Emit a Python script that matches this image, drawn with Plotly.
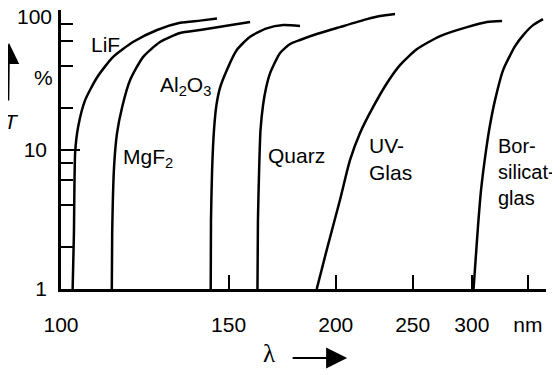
import numpy as np
import plotly.graph_objects as go

# Transmission curves T(%) versus wavelength (nm)
lif_wl = [102.7, 103.0, 103.3, 104.0, 105.7, 108.7, 112.8, 118.3, 125.4, 132.7, 139.5, 145.6]
lif_T = [1.0, 2.5, 9.6, 14.5, 22.6, 33.0, 46.0, 59.0, 72.0, 81.0, 84.0, 87.0]

mgf2_wl = [112.5, 112.6, 113.1, 113.9, 115.3, 117.5, 121.2, 126.3, 132.7, 139.5, 148.6, 158.6]
mgf2_T = [1.0, 2.5, 7.5, 13.1, 20.2, 31.5, 46.0, 59.0, 68.4, 71.9, 76.8, 82.0]

al2o3_wl = [143.3, 143.4, 143.8, 144.5, 145.4, 146.7, 149.3, 153.2, 158.6, 165.7, 173.2, 181.2]
al2o3_T = [1.0, 3.1, 7.1, 13.8, 20.8, 27.6, 37.1, 51.7, 64.4, 73.9, 78.0, 76.8]

quarz_wl = [161.7, 161.9, 162.4, 163.0, 164.1, 165.4, 167.2, 171.7, 176.4, 181.2, 189.7, 202.4, 218.6, 227.0, 237.2]
quarz_T = [1.0, 3.1, 7.1, 13.8, 20.8, 27.6, 35.3, 49.2, 57.1, 61.0, 67.3, 75.5, 86.1, 90.6, 93.6]

uv_wl = [189.7, 195.0, 202.4, 208.2, 214.2, 222.5, 231.7, 240.7, 253.3, 271.7, 295.5, 314.9, 330.6]
uv_T = [1.0, 1.9, 4.35, 8.4, 13.1, 20.2, 30.0, 40.3, 52.5, 65.1, 75.5, 82.0, 83.4]

bor_wl = [301.6, 303.1, 306.0, 308.9, 313.9, 317.9, 323.1, 331.7, 345.0, 355.5, 366.3, 378.8]
bor_T = [1.0, 1.44, 2.88, 5.13, 9.9, 15.0, 22.6, 37.1, 55.2, 67.3, 78.0, 86.1]

x_tick_wl = [100, 150, 200, 250, 300, 360]
x_tick_text = ["100", "150", "200", "250", "300", "nm"]
y_major = [1, 10, 100]
y_major_text = ["1", "10", ""]   # "100" is written just below its tick, as in the original
y_minor = [2, 4, 6, 8, 20, 40, 60, 80]

curve_labels = ["LiF", "MgF<sub>2</sub>", "Al<sub>2</sub>O<sub>3</sub>", "Quarz", "UV-<br>Glas", "Bor-<br>silicat-<br>glas"]

EXP = 0.3  # wavelength axis of the original drawing: roughly linear in -lambda^-0.3


def xs(wl):
    return -np.power(np.asarray(wl, dtype=float), -EXP)


series = [(lif_wl, lif_T), (mgf2_wl, mgf2_T), (al2o3_wl, al2o3_T),
          (quarz_wl, quarz_T), (uv_wl, uv_T), (bor_wl, bor_T)]

fig = go.Figure()
for wl, T in series:
    fig.add_trace(go.Scatter(x=xs(wl), y=T, mode="lines",
                             line=dict(color="black", width=2.5, shape="spline", smoothing=0.6),
                             showlegend=False, hoverinfo="skip"))

FONT = "Liberation Sans, Arial, sans-serif"
FS = 21

# the page body has an 8px margin: the figure is sized so it fills the window from there
fig.update_layout(
    template="none",
    width=552, height=367,
    margin=dict(l=53, r=14, t=2, b=86, pad=0),
    paper_bgcolor="white", plot_bgcolor="white",
    font=dict(family=FONT, size=FS, color="black"),
    showlegend=False,
)

fig.update_xaxes(
    automargin=False,
    range=[float(xs(100)), float(xs(382.7))],
    showgrid=False, zeroline=False,
    showline=True, linecolor="black", linewidth=2.5,
    tickmode="array", tickvals=xs(x_tick_wl), ticktext=x_tick_text,
    ticks="inside", ticklen=14, tickwidth=2, tickcolor="black",
    ticklabelstandoff=15, ticklabeloverflow="allow",
    tickfont=dict(family=FONT, size=FS, color="black"),
)
fig.update_yaxes(
    automargin=False,
    type="log", range=[0, 2.0005],
    showgrid=False, zeroline=False,
    showline=True, linecolor="black", linewidth=2.5,
    tickmode="array", tickvals=y_major, ticktext=y_major_text,
    ticks="inside", ticklen=19, tickwidth=2, tickcolor="black",
    ticklabelstandoff=7, ticklabeloverflow="allow",
    tickfont=dict(family=FONT, size=FS, color="black"),
    minor=dict(tickmode="array", tickvals=y_minor, ticks="inside", ticklen=12,
               tickwidth=2, tickcolor="black", showgrid=False),
)

fig.add_annotation(text="100", x=-0.014, y=0.978, xref="paper", yref="paper",
                   xanchor="right", yanchor="middle", showarrow=False,
                   font=dict(family=FONT, size=FS, color="black"))

# curve labels (paper coordinates)
label_pos = [(0.0577, 0.878), (0.124, 0.468), (0.200, 0.728),
             (0.423, 0.478), (0.631, 0.466), (0.897, 0.420)]
label_size = [FS, FS, FS, FS, FS, 20]
for txt, (px, py), fs in zip(curve_labels, label_pos, label_size):
    fig.add_annotation(text=txt, x=px, y=py, xref="paper", yref="paper",
                       xanchor="left", yanchor="middle", align="left",
                       showarrow=False, font=dict(family=FONT, size=fs, color="black"))

# y-axis unit and title with arrow
fig.add_annotation(text="%", x=-0.0598, y=0.806, xref="paper", yref="paper",
                   showarrow=False, font=dict(family=FONT, size=FS, color="black"))
fig.add_annotation(text="", x=-0.1087, y=0.882, xref="paper", yref="paper",
                   ax=0, ay=59, axref="pixel", ayref="pixel",
                   showarrow=True, arrowhead=2, arrowsize=2.1, arrowwidth=2, arrowcolor="black")
fig.add_annotation(text="<i>T</i>", x=-0.1216, y=0.602, xref="paper", yref="paper",
                   showarrow=False, font=dict(family=FONT, size=FS, color="black"))

# x-axis title with arrow
fig.add_annotation(text="λ", x=0.429, y=-0.287, xref="paper", yref="paper",
                   showarrow=False, font=dict(family="Liberation Serif, serif", size=25, color="black"))
fig.add_annotation(text="", x=0.590, y=-0.247, xref="paper", yref="paper",
                   ax=-56, ay=0, axref="pixel", ayref="pixel",
                   showarrow=True, arrowhead=2, arrowsize=2.1, arrowwidth=2, arrowcolor="black")

fig.write_html("out.html")
